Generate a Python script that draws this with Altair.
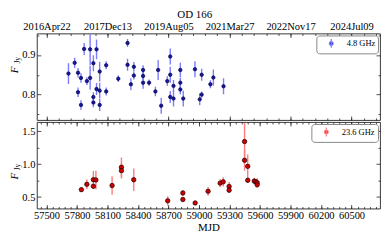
import altair as alt
import pandas as pd

FONT = "Liberation Serif"

title_text = "OD 166"
x_title = "MJD"
band_c = "4.8 GHz"
band_k = "23.6 GHz"

# 4.8 GHz light curve
mjd_c = [57716, 57777, 57810, 57810, 57839, 57839, 57870, 57897, 57929, 57929,
         57961, 57961, 57961, 57992, 57992, 58023, 58023, 58023, 58087, 58087,
         58206, 58297, 58297, 58330, 58359, 58359, 58450, 58450, 58450, 58509,
         58571, 58598, 58628, 58688, 58717, 58717, 58717, 58749, 58749, 58816,
         58816, 58816, 58845, 58960, 59007, 59026, 59026, 59112, 59141, 59241]
flux_c = [0.853, 0.880, 0.855, 0.806, 0.842, 0.774, 0.915, 0.834, 0.914, 0.842,
          0.879, 0.794, 0.780, 0.914, 0.814, 0.858, 0.810, 0.774, 0.874, 0.808,
          0.840, 0.930, 0.875, 0.826, 0.870, 0.848, 0.862, 0.847, 0.830, 0.830,
          0.808, 0.862, 0.772, 0.834, 0.896, 0.850, 0.794, 0.822, 0.790, 0.862,
          0.830, 0.813, 0.790, 0.864, 0.788, 0.850, 0.800, 0.826, 0.843, 0.821]
err_c = [0.026, 0.013, 0.012, 0.012, 0.012, 0.012, 0.015, 0.010, 0.040, 0.030,
         0.020, 0.012, 0.012, 0.025, 0.015, 0.025, 0.020, 0.015, 0.010, 0.010,
         0.008, 0.010, 0.015, 0.015, 0.012, 0.010, 0.012, 0.010, 0.015, 0.008,
         0.012, 0.025, 0.020, 0.012, 0.020, 0.020, 0.015, 0.015, 0.020, 0.018,
         0.012, 0.012, 0.020, 0.020, 0.015, 0.015, 0.008, 0.010, 0.020, 0.020]

# 23.6 GHz light curve
mjd_k = [57843, 57897, 57961, 57961, 57986, 58145, 58237, 58237, 58358, 58692,
         58841, 58841, 58962, 59089, 59208, 59238, 59296, 59296, 59448, 59448,
         59479, 59479, 59543, 59560, 59572, 59572]
flux_k = [0.613, 0.694, 0.764, 0.665, 0.760, 0.675, 0.953, 0.902, 0.764, 0.443,
          0.562, 0.463, 0.411, 0.588, 0.712, 0.732, 0.661, 0.605, 1.344, 1.059,
          0.967, 0.755, 0.743, 0.732, 0.718, 0.687]
err_k = [0.035, 0.075, 0.134, 0.030, 0.140, 0.140, 0.150, 0.120, 0.170, 0.070,
         0.047, 0.030, 0.030, 0.066, 0.064, 0.070, 0.070, 0.040, 0.280, 0.160,
         0.180, 0.040, 0.050, 0.040, 0.070, 0.040]

# axes
x_domain = [57405, 60780]
y_domain_c = [0.736, 0.954]
y_domain_k = [0.326, 1.641]
date_tick_values = [57500, 58100, 58700, 59300, 59900, 60500]
date_tick_labels = ["2016Apr22", "2017Dec13", "2019Aug05", "2021Mar27", "2022Nov17", "2024Jul09"]
top_minor_x = list(range(57500, 60781, 120))
mjd_tick_values = list(range(57500, 60501, 300))
bottom_minor_x = list(range(57440, 60781, 60))
y_major_c = [0.8, 0.9]
y_minor_c = [0.75, 0.85, 0.95]
y_major_k = [0.5, 1.0, 1.5]
y_minor_k = [0.75, 1.25]

W, H = 345, 87

df_c = pd.DataFrame({"mjd": mjd_c, "flux": flux_c, "err": err_c})
df_c["lo"] = df_c["flux"] - df_c["err"]
df_c["hi"] = df_c["flux"] + df_c["err"]
df_c["band"] = band_c
df_k = pd.DataFrame({"mjd": mjd_k, "flux": flux_k, "err": err_k})
df_k["lo"] = df_k["flux"] - df_k["err"]
df_k["hi"] = df_k["flux"] + df_k["err"]
df_k["band"] = band_k

date_expr = " : ".join(
    f"datum.value == {v} ? '{l}'" for v, l in zip(date_tick_values, date_tick_labels)
) + " : ''"

LEG_PATH = ("M0,-1L0,1M-0.42,0A0.42,0.42,0,1,0,0.42,0"
            "A0.42,0.42,0,1,0,-0.42,0Z")


def tick_axis(orient, values, size, **kw):
    return alt.Axis(orient=orient, values=values, tickSize=size, offset=-size,
                    labels=kw.pop("labels", False), domain=False, grid=False,
                    title=kw.pop("title", None), tickColor="#222",
                    tickWidth=0.8, labelFlush=False, **kw)


def panel(df, ydom, ymaj, ymin, xmaj, xmin, top_axis_kw, bottom_axis_kw,
          pt_fill, pt_stroke, pt_size, bar_color, band, f_frac, jy_frac):
    xs = alt.Scale(domain=x_domain, nice=False, zero=False)
    ys = alt.Scale(domain=ydom, nice=False, zero=False)
    bars = alt.Chart(df).mark_rule(color=bar_color, strokeWidth=1.4, clip=True).encode(
        x=alt.X("mjd:Q", scale=xs, axis=None),
        y=alt.Y("lo:Q", scale=ys, axis=None),
        y2="hi:Q",
    )
    pts = alt.Chart(df).mark_point(filled=True, size=pt_size, stroke=pt_stroke,
                                   strokeWidth=0.7, opacity=1, clip=True).encode(
        x=alt.X("mjd:Q", scale=xs, axis=None),
        y=alt.Y("flux:Q", scale=ys, axis=None),
        fill=alt.Fill("band:N", scale=alt.Scale(domain=[band], range=[pt_fill]),
                      legend=alt.Legend(title=None, orient="top-right", offset=2,
                                        padding=2.5, strokeColor="#888", cornerRadius=3,
                                        fillColor="white", labelFont=FONT,
                                        labelFontSize=8.5, labelColor="black",
                                        symbolType=LEG_PATH, symbolSize=80,
                                        symbolStrokeColor=bar_color,
                                        symbolStrokeWidth=1.2, symbolOffset=7,
                                        labelOffset=10)),
    )

    def tl(xaxis, yaxis):
        return alt.Chart(df).mark_point(opacity=0).encode(
            x=alt.X("mjd:Q", scale=xs, axis=xaxis),
            y=alt.Y("flux:Q", scale=ys, axis=yaxis),
        )

    t1 = tl(tick_axis("bottom", xmaj, 4, **bottom_axis_kw),
            tick_axis("left", ymaj, 4, labels=True, format=".1f", labelPadding=2))
    t2 = tl(tick_axis("bottom", xmin, 2), tick_axis("left", ymin, 2))
    t3 = tl(tick_axis("top", xmaj, 4, **top_axis_kw), tick_axis("right", ymaj, 4))
    t4 = tl(tick_axis("top", xmin, 2), tick_axis("right", ymin, 2))

    f_txt = alt.Chart(pd.DataFrame({"t": ["F"]})).mark_text(
        font=FONT, fontSize=11, fontStyle="italic", angle=270,
        align="center", baseline="middle", color="black").encode(
        text="t:N", x=alt.value(-22), y=alt.value(f_frac * H))
    jy_txt = alt.Chart(pd.DataFrame({"t": ["Jy"]})).mark_text(
        font=FONT, fontSize=7.5, angle=270,
        align="center", baseline="middle", color="black").encode(
        text="t:N", x=alt.value(-18.5), y=alt.value(jy_frac * H))

    return alt.layer(bars, pts, t1, t2, t3, t4, f_txt, jy_txt).resolve_axis(
        x="independent", y="independent").properties(width=W, height=H)


top = panel(df_c, y_domain_c, y_major_c, y_minor_c, date_tick_values, top_minor_x,
            dict(labels=True, labelExpr=date_expr, labelPadding=2), {},
            "#1616a0", "#00004a", 12, "#7c7cff", band_c, 0.42, 0.31)
bottom = panel(df_k, y_domain_k, y_major_k, y_minor_k, mjd_tick_values, bottom_minor_x,
               {}, dict(labels=True, format="d", labelPadding=2, title=x_title,
                        titlePadding=1),
               "#d00000", "#1a0000", 20, "#ff7c7c", band_k, 0.625, 0.52)

chart = alt.vconcat(top, bottom, spacing=0).resolve_scale(
    fill="independent").resolve_legend(fill="independent").properties(
    title=alt.Title(title_text, font=FONT, fontSize=11, fontWeight="normal",
                    anchor="middle", frame="bounds", offset=1, color="black"),
    padding=0,
).configure_view(stroke="#222", strokeWidth=0.9).configure_axis(
    labelFont=FONT, labelFontSize=10.5, labelColor="black",
    titleFont=FONT, titleFontSize=11, titleFontWeight="normal", titleColor="black",
).configure_legend(labelFont=FONT)

chart.save("out.html", embed_options={"renderer": "svg", "actions": False})
